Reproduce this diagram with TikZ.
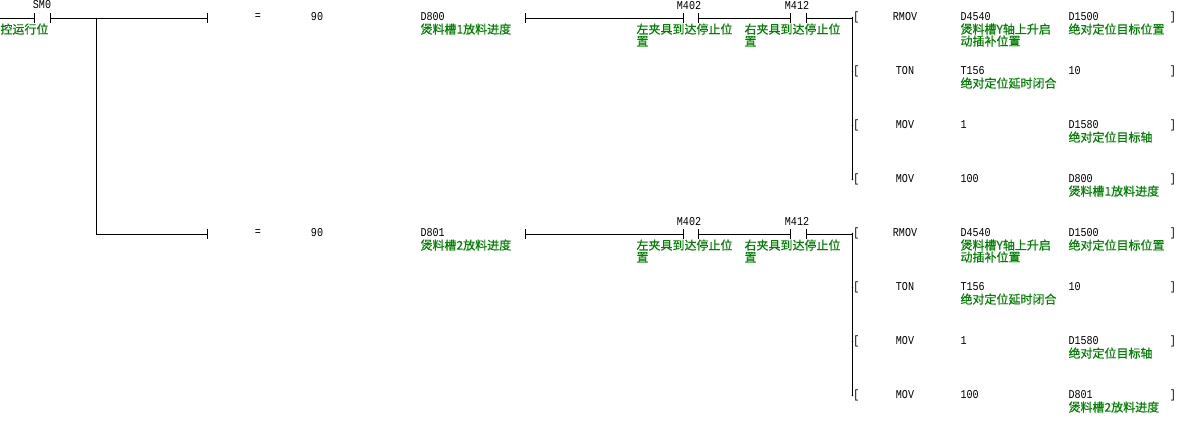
\documentclass[tikz,border=0pt]{standalone}
\usepackage{fontspec}
\setmonofont[FakeStretch=0.84]{Liberation Mono}
\newfontfamily\cjk[FakeBold=0.6]{Noto Sans CJK SC}
\definecolor{cmtgreen}{RGB}{0,128,0}
\tikzset{
	lad/.style={inner sep=0,font=\fontsize{12}{12}\selectfont\ttfamily},
	cmt/.style={inner sep=0,anchor=north west,align=left,text=cmtgreen,font=\fontsize{12}{12}\selectfont\cjk},
}
\begin{document}
\begin{tikzpicture}[x=1pt,y=-1pt,line width=1pt,line cap=butt]
	\useasboundingbox (0,0) rectangle (1191,424);
	% common part of both rungs
	\path
	(0,18) coordinate (L)
	(34,18) coordinate (SA)
	(50,18) coordinate (SB)
	(96,18) coordinate (J)
	(96,234) coordinate (Jb)
	;
	\node[lad] (SM) at (42,5) {SM0};
	\node[cmt] (SMc) at (0,23) {控运行位};
	\draw (L)--(SA) (SB)--(J) (J)--(Jb);
	\foreach \x in {SA,SB}\draw (\x)+(0,-5)--+(0,5);
	\foreach \r/\d/\n in {0/D800/1,216/D801/2}{
		\begin{scope}[shift={(0,\r)}]
			\path
			(96,18) coordinate (A\n)
			(207,18) coordinate (B\n)
			(525,18) coordinate (C\n)
			(683,18) coordinate (D\n)
			(698,18) coordinate (E\n)
			(790,18) coordinate (F\n)
			(806,18) coordinate (G\n)
			(852,18) coordinate (H\n)
			;
			\draw (A\n)--(B\n) (C\n)--(D\n) (E\n)--(F\n) (G\n)--(H\n);
			\foreach \x in {B,C,D,E,F,G}\draw (\x\n)+(0,-5)--+(0,5);
			\node[lad] (eq\n) at (258,17) {=};
			\node[lad] (v\n) at (317,17) {90};
			\node[lad,anchor=west] (d\n) at (420,17) {\d};
			\node[cmt] (dc\n) at (420,23) {煲料槽\n 放料进度};
			\node[lad,anchor=base] (ma\n) at (689,9) {M402};
			\node[cmt] (mac\n) at (636,23) {左夹具到达停止位\\置};
			\node[lad,anchor=base] (mb\n) at (797,9) {M412};
			\node[cmt] (mbc\n) at (744,23) {右夹具到达停止位\\置};
			% output rows
			\foreach \i/\y/\op/\sa/\sb in {1/17/RMOV/D4540/D1500,2/71/TON/T156/10,3/125/MOV/1/D1580,4/179/MOV/100/\d}{
				\node[lad] (bl\n\i) at (856.5,\y) {[};
				\node[lad] (op\n\i) at (905,\y) {\op};
				\node[lad,anchor=west] (sa\n\i) at (960,\y) {\sa};
				\node[lad,anchor=west] (sb\n\i) at (1068,\y) {\sb};
				\node[lad] (br\n\i) at (1173,\y) {]};
				\draw (852,\y+1)--(bl\n\i.west);
			}
			\draw (H\n)--(852,180);
			\node[cmt] at (960,23) {煲料槽Y轴上升启\\动插补位置};
			\node[cmt] at (1068,23) {绝对定位目标位置};
			\node[cmt] at (960,77) {绝对定位延时闭合};
			\node[cmt] at (1068,131) {绝对定位目标轴};
			\node[cmt] at (1068,185) {煲料槽\n 放料进度};
		\end{scope}
	}
\end{tikzpicture}
\end{document}
